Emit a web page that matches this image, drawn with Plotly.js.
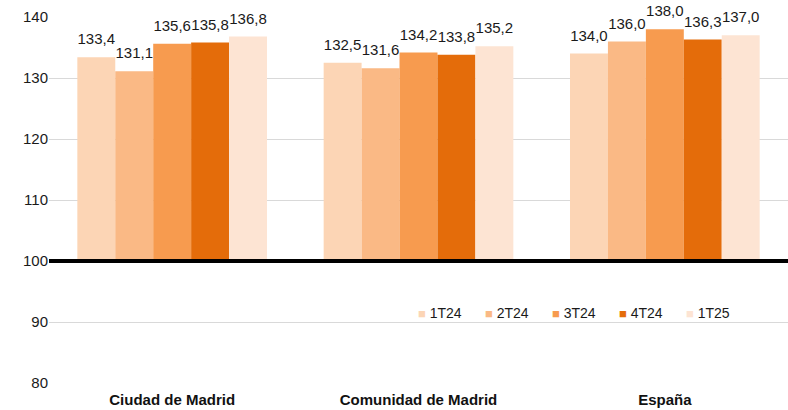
<!DOCTYPE html>
<html><head><meta charset="utf-8">
<script src="https://cdn.plot.ly/plotly-3.0.1.min.js"></script>
<style>body{margin:0;background:#fff}#c{width:788px;height:410px}</style>
</head><body><div id="c"></div>
<script>
const categories = ["Ciudad de Madrid", "Comunidad de Madrid", "España"];
const seriesNames = ["1T24", "2T24", "3T24", "4T24", "1T25"];
const s1T24 = [133.4, 132.5, 134.0];
const s2T24 = [131.1, 131.6, 136.0];
const s3T24 = [135.6, 134.2, 138.0];
const s4T24 = [135.8, 133.8, 136.3];
const s1T25 = [136.8, 135.2, 137.0];
const baseValue = 100;
const colors = ["#FCD5B5", "#FAB985", "#F79B4F", "#E46C0A", "#FDE4D3"];
const allSeries = [s1T24, s2T24, s3T24, s4T24, s1T25];

const FONT = 'Liberation Sans, Arial, sans-serif';
const fmt = v => v.toFixed(1).replace('.', ',');
const bars = allSeries.map((vals, i) => ({
  type: 'bar', name: seriesNames[i], x: categories,
  y: vals.map(v => v - baseValue), base: baseValue,
  marker: {color: colors[i]},
  hoverinfo: 'skip', showlegend: false
}));
const labels = allSeries.map((vals, i) => ({
  type: 'scatter', mode: 'markers+text', name: seriesNames[i] + ' label', x: categories, y: vals,
  text: vals.map(fmt), textposition: 'top center', cliponaxis: false,
  marker: {size: 13, color: 'rgba(0,0,0,0)'},
  textfont: {family: FONT, size: 15, color: '#1a1a1a'},
  hoverinfo: 'skip', showlegend: false
}));

// custom legend (swatch + label) built from series names/colours
const legendX0 = 0.497, legendStep = 0.0905, legendY = 0.19;
const legendAnnots = seriesNames.map((n, i) => ({
  xref: 'paper', yref: 'paper', x: legendX0 + i * legendStep, y: legendY,
  xanchor: 'left', yanchor: 'middle', showarrow: false,
  text: '<span style="color:' + colors[i] + ';font-size:13px">■</span> ' + n,
  font: {family: FONT, size: 14, color: '#1a1a1a'}
}));

const layout = {
  width: 788, height: 410,
  margin: {l: 49, r: 0, t: 17, b: 27, autoexpand: false},
  paper_bgcolor: '#fff', plot_bgcolor: '#fff',
  font: {family: FONT, size: 14, color: '#1a1a1a'},
  barmode: 'group', bargap: 0.23, bargroupgap: 0,
  scattermode: 'group', scattergap: 0.23,
  xaxis: {type: 'category', showgrid: false, zeroline: false, showline: false, ticks: '',
    automargin: false, ticklabelstandoff: 6,
    tickfont: {family: FONT, size: 15, color: '#111', weight: 'bold'}},
  yaxis: {range: [80, 140], dtick: 10, showgrid: true, gridcolor: '#d9d9d9', gridwidth: 1,
    zeroline: false, showline: false, ticks: '', ticklabelstandoff: 0, automargin: false,
    tickfont: {family: FONT, size: 15, color: '#1a1a1a'}},
  showlegend: false,
  annotations: legendAnnots,
  shapes: [{type: 'line', xref: 'paper', x0: 0, x1: 1, yref: 'y', y0: baseValue, y1: baseValue,
    line: {color: '#000', width: 4}}]
};
Plotly.newPlot('c', bars.concat(labels), layout, {staticPlot: true});
</script></body></html>
